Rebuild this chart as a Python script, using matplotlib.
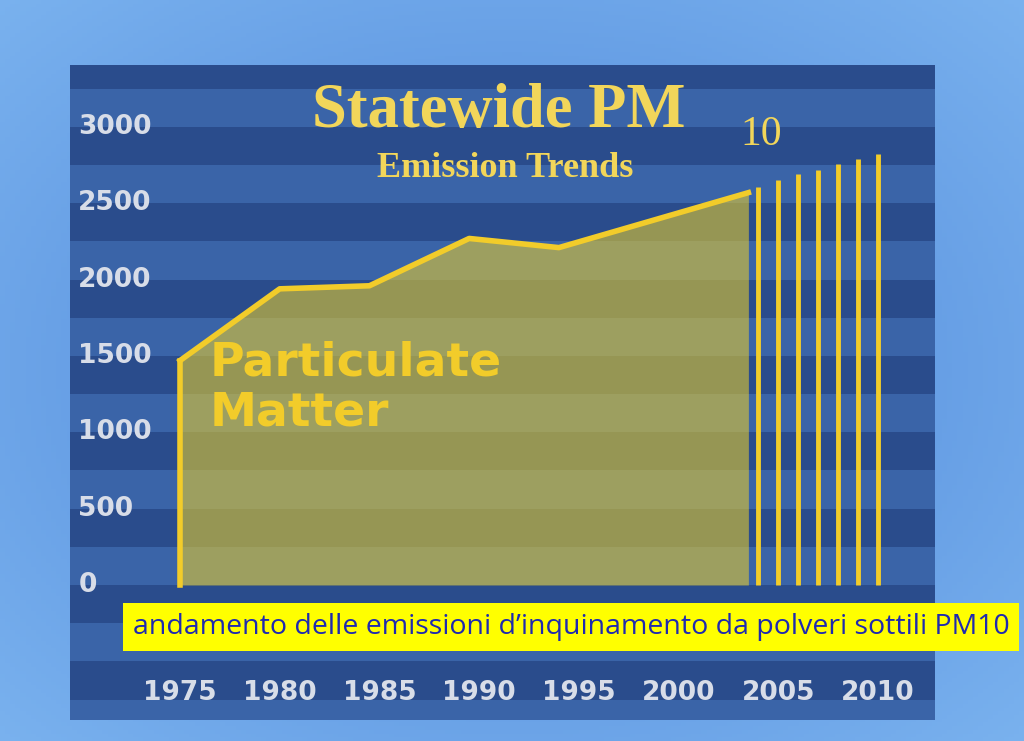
import numpy as np
import matplotlib
matplotlib.use("Agg")
import matplotlib.pyplot as plt
from matplotlib.patches import Rectangle

years = [1975, 1980, 1984.5, 1989.5, 1994, 2003.5]
values = [1470, 1940, 1960, 2270, 2210, 2570]
proj_years = [2004, 2005, 2006, 2007, 2008, 2009, 2010]
proj_values = [2610, 2650, 2690, 2720, 2760, 2790, 2820]
yticks = [0, 500, 1000, 1500, 2000, 2500, 3000]
xticks = [1975, 1980, 1985, 1990, 1995, 2000, 2005, 2010]

W, H = 1024, 741
fig = plt.figure(figsize=(W/100, H/100), dpi=100)
bg = fig.add_axes([0, 0, 1, 1])
gx = np.linspace(0, 1, 200)
X, Y = np.meshgrid(gx, gx)
R = np.sqrt((X-0.5)**2 + (Y-0.5)**2)
img = np.zeros((200, 200, 3))
img[..., 0] = 0.30 + 0.25*R
img[..., 1] = 0.52 + 0.25*R
img[..., 2] = 0.85 + 0.12*R
bg.imshow(np.clip(img, 0, 1), extent=[0, 1, 0, 1], aspect='auto')
bg.axis('off')

l, r, t, b = 70, 935, 65, 720
ax = fig.add_axes([l/W, 1-b/H, (r-l)/W, (b-t)/H])
pxyr = (878-180)/35
pxv = (585-127)/3000
x0, x1 = 1975-(180-l)/pxyr, 2010+(r-878)/pxyr
y0, y1 = -(b-585)/pxv, (585-t)/pxv
ax.set_xlim(x0, x1)
ax.set_ylim(y0, y1)
ax.axis('off')
ax.add_patch(Rectangle((x0, y0), x1-x0, y1-y0, color='#2a4c8c', lw=0, zorder=0))
for k in range(-4, 14, 2):
    ax.axhspan(k*250, (k+1)*250, color='#3a64a8', lw=0, zorder=0.5)

ax.fill_between(years, 0, values, color='#e0c830', alpha=0.6, lw=0, zorder=2)
ax.plot(years, values, color='#f2cc2a', lw=4, zorder=3)
ax.plot([1975, 1975], [0, 1470], color='#f2cc2a', lw=4, zorder=3)
ax.vlines(proj_years, 0, proj_values, color='#f2cc2a', lw=3.5, zorder=3)

for v in yticks:
    ax.text(1969.9, v, str(v), color='#d8dde8', fontsize=19, fontweight='bold',
            va='center', ha='left')
for xv in xticks:
    ax.text(xv, -710, str(xv), color='#d8dde8', fontsize=19, fontweight='bold',
            ha='center', va='center')

ax.text(1976.5, 1290, 'Particulate\nMatter', color='#f2cc2a', fontsize=34,
        fontweight='bold', ha='left', va='center', linespacing=1.15, zorder=4)
ax.text(1991.0, 3098, 'Statewide PM', color='#f2d65a', fontsize=45,
        family='Liberation Serif', fontweight='bold', ha='center', va='center')
ax.text(2003.1, 2947, '10', color='#f2d65a', fontsize=30,
        family='Liberation Serif', ha='left', va='center')
ax.text(1991.3, 2731, 'Emission Trends', color='#f2d65a', fontsize=26,
        family='Liberation Serif', fontweight='bold', ha='center', va='center')

fig.text(571/W, 1-627/H, 'andamento delle emissioni d\u2019inquinamento da polveri sottili PM10',
         color='#1f2ab0', fontsize=20.5, ha='center', va='center',
         family=['Liberation Sans Narrow', 'Open Sans', 'DejaVu Sans'],
         bbox=dict(facecolor='#ffff00', edgecolor='none', pad=7))
fig.savefig('out.png', dpi=100)
